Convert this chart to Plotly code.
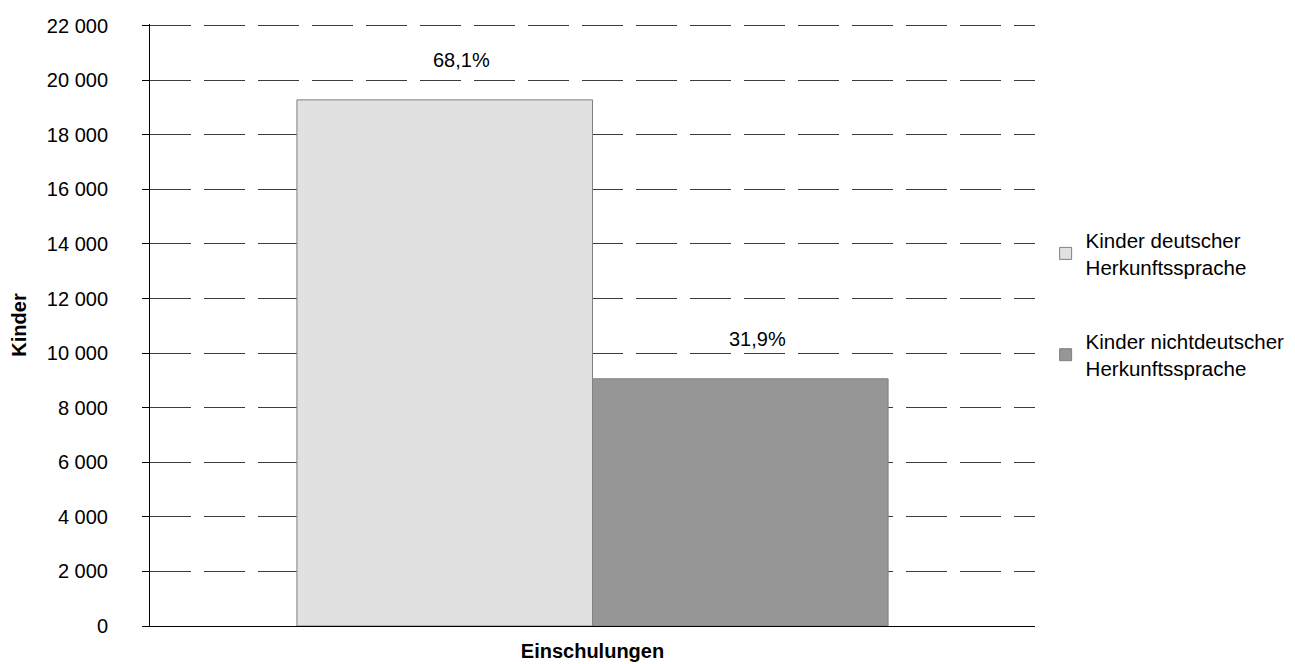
import plotly.graph_objects as go

categories = ["Einschulungen"]
series_names = ["Kinder deutscher<br>Herkunftssprache", "Kinder nichtdeutscher<br>Herkunftssprache"]
values_deutsch = [19280]
values_nichtdeutsch = [9060]
pct_labels = ["68,1%", "31,9%"]
y_ticks = list(range(0, 22001, 2000))
colors = ["#e1e1e1", "#969696"]

FONT = "Liberation Sans, Arial, sans-serif"
FS = 20

fig = go.Figure()
for i, (name, vals) in enumerate(zip(series_names, [values_deutsch, values_nichtdeutsch])):
    fig.add_trace(go.Bar(
        x=categories, y=vals, name=name,
        marker=dict(color=colors[i], line=dict(color="#808080", width=1)),
        legendgroup=f"g{i}",
        hoverinfo="skip",
    ))

# percentage labels above bars
for i, (vals, lab) in enumerate(zip([values_deutsch, values_nichtdeutsch], pct_labels)):
    fig.add_annotation(
        x=categories[0], y=vals[0], text=lab, showarrow=False,
        xshift=(-1 if i == 0 else 1) * 148 + 17, yshift=40,
        font=dict(family=FONT, size=FS, color="#000000"),
    )

fig.update_layout(
    width=1287, height=656,
    margin=dict(l=142, r=260, t=16, b=38, autoexpand=False),
    plot_bgcolor="white", paper_bgcolor="white",
    barmode="group", bargap=0.332, bargroupgap=0,
    font=dict(family=FONT, size=FS, color="#000000"),
    separators=", ",
    showlegend=True,
    legend=dict(
        x=1.012, y=0.674, xanchor="left", yanchor="top",
        font=dict(family=FONT, size=20.5),
        tracegroupgap=45, traceorder="grouped",
        bgcolor="rgba(0,0,0,0)",
    ),
    xaxis=dict(
        showline=True, linecolor="#000000", linewidth=1,
        ticks="", showgrid=False, zeroline=False, automargin=False,
        tickfont=dict(family=FONT, size=FS, weight="bold"),
        ticklabelstandoff=7,
    ),
    yaxis=dict(
        range=[0, 22060], tickvals=y_ticks, tickformat=",d",
        showline=True, linecolor="#000000", linewidth=1,
        ticks="outside", ticklen=7, tickcolor="#000000",
        showgrid=True, gridcolor="#3c3c3c", gridwidth=1,
        griddash="41px,13px",
        zeroline=False, automargin=False,
        tickfont=dict(family=FONT, size=FS),
        ticklabelstandoff=30,
        title=dict(text="<b>Kinder</b>", font=dict(family=FONT, size=FS), standoff=18),
    ),
)

fig.write_html("out.html")
